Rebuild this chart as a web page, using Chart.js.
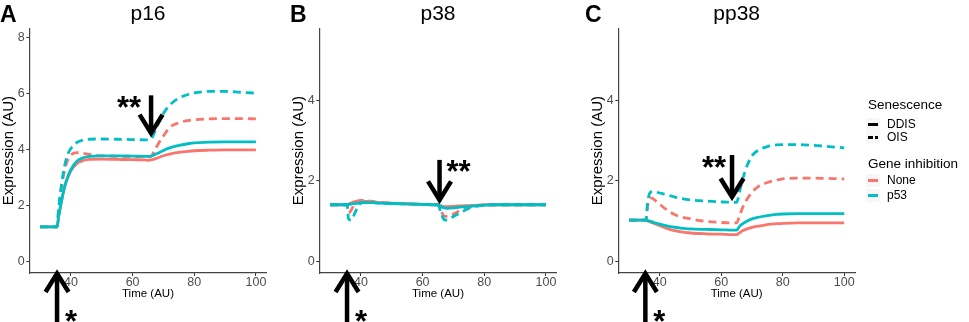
<!DOCTYPE html>
<html>
<head>
<meta charset="utf-8">
<script src="https://cdn.jsdelivr.net/npm/chart.js@4.4.0/dist/chart.umd.min.js"></script>
<style>
  body { margin: 0; background: #fff; width: 969px; height: 322px; position: relative; overflow: hidden;
         font-family: "Liberation Sans", Arial, sans-serif; }
  canvas { position: absolute; top: 0; }
  .legend { position: absolute; left: 866px; top: 0; color: #000; }
  .legend .ttl { position: absolute; left: 2px; font-size: 13.5px; white-space: nowrap; line-height: 16px; }
  .legend .key { position: absolute; left: 0; width: 14px; height: 13px; background: #f7f7f7; }
  .legend .lbl { position: absolute; left: 21px; font-size: 12px; line-height: 14px; white-space: nowrap; }
  .sw { position: absolute; top: 5px; height: 3px; }
</style>
</head>
<body>
<canvas id="panelA" width="290" height="322" style="left:0"></canvas>
<canvas id="panelB" width="290" height="322" style="left:290px"></canvas>
<canvas id="panelC" width="290" height="322" style="left:580px"></canvas>

<div class="legend">
  <div class="ttl" style="top:97px">Senescence</div>
  <div class="key" style="top:118px"><div class="sw" style="left:2px;width:10px;background:#000"></div></div>
  <div class="lbl" style="top:117px">DDIS</div>
  <div class="key" style="top:131px">
    <div class="sw" style="left:2px;width:5px;background:#000"></div>
    <div class="sw" style="left:9px;width:3px;background:#000"></div>
  </div>
  <div class="lbl" style="top:130px">OIS</div>
  <div class="ttl" style="top:156px">Gene inhibition</div>
  <div class="key" style="top:174px"><div class="sw" style="left:2px;width:10px;background:#F8766D"></div></div>
  <div class="lbl" style="top:173px">None</div>
  <div class="key" style="top:189px"><div class="sw" style="left:2px;width:10px;background:#00BFC4"></div></div>
  <div class="lbl" style="top:188px">p53</div>
</div>

<script>
// time points (AU)
const time = [30, 35, 35.5, 36, 37, 38, 39, 40, 42, 44, 46, 50, 55, 60,
              64, 65, 66, 67, 68, 70, 72, 75, 78, 80, 85, 90, 95, 100];

// p16
const p16P53Ddis  = [1.25, 1.25, 1.25, 1.6, 2.2, 2.7, 3.05, 3.3, 3.6, 3.72, 3.77, 3.79, 3.79, 3.78,
                     3.77, 3.77, 3.78, 3.82, 3.87, 3.98, 4.07, 4.16, 4.22, 4.25, 4.28, 4.29, 4.29, 4.29];
const p16NoneDdis = [1.25, 1.25, 1.25, 1.6, 2.2, 2.7, 3.0, 3.25, 3.52, 3.62, 3.66, 3.67, 3.66, 3.65,
                     3.64, 3.63, 3.64, 3.67, 3.71, 3.79, 3.85, 3.91, 3.95, 3.97, 3.99, 4.0, 4.0, 4.0];
const p16P53Ois   = [1.25, 1.25, 1.25, 1.9, 2.8, 3.45, 3.85, 4.05, 4.27, 4.35, 4.38, 4.39, 4.38, 4.37,
                     4.36, 4.36, 4.38, 4.6, 4.85, 5.3, 5.6, 5.85, 5.98, 6.04, 6.09, 6.09, 6.06, 6.03];
const p16NoneOis  = [1.25, 1.25, 1.25, 1.85, 2.7, 3.3, 3.65, 3.82, 3.9, 3.88, 3.84, 3.79, 3.77, 3.76,
                     3.76, 3.76, 3.77, 3.95, 4.15, 4.5, 4.8, 4.97, 5.05, 5.08, 5.11, 5.12, 5.12, 5.11];

// p38
const p38P53Ddis  = [1.41, 1.41, 1.41, 1.42, 1.43, 1.44, 1.45, 1.46, 1.46, 1.46, 1.45, 1.44, 1.43, 1.42,
                     1.41, 1.41, 1.36, 1.33, 1.32, 1.33, 1.35, 1.37, 1.39, 1.4, 1.41, 1.41, 1.41, 1.41];
const p38NoneDdis = [1.41, 1.41, 1.41, 1.43, 1.46, 1.49, 1.5, 1.5, 1.49, 1.47, 1.46, 1.45, 1.43, 1.42,
                     1.41, 1.41, 1.38, 1.36, 1.36, 1.37, 1.38, 1.39, 1.4, 1.41, 1.41, 1.41, 1.41, 1.41];
const p38P53Ois   = [1.41, 1.41, 1.41, 1.05, 1.03, 1.2, 1.36, 1.45, 1.47, 1.46, 1.45, 1.44, 1.43, 1.42,
                     1.41, 1.41, 1.2, 1.04, 1.03, 1.12, 1.2, 1.32, 1.38, 1.4, 1.41, 1.41, 1.41, 1.41];
const p38NoneOis  = [1.41, 1.41, 1.41, 1.2, 1.3, 1.45, 1.5, 1.52, 1.51, 1.49, 1.47, 1.45, 1.43, 1.42,
                     1.41, 1.41, 1.25, 1.13, 1.12, 1.18, 1.26, 1.34, 1.38, 1.4, 1.41, 1.41, 1.41, 1.41];

// pp38
const pp38P53Ddis  = [1.03, 1.03, 1.03, 1.02, 1.0, 0.97, 0.95, 0.93, 0.89, 0.86, 0.84, 0.81, 0.8, 0.79,
                      0.78, 0.78, 0.88, 0.94, 0.99, 1.06, 1.1, 1.14, 1.17, 1.18, 1.19, 1.19, 1.19, 1.19];
const pp38NoneDdis = [1.03, 1.03, 1.03, 1.01, 0.98, 0.95, 0.92, 0.89, 0.83, 0.78, 0.75, 0.71, 0.69, 0.68,
                      0.67, 0.67, 0.72, 0.77, 0.8, 0.85, 0.88, 0.92, 0.94, 0.95, 0.96, 0.96, 0.96, 0.96];
const pp38P53Ois   = [1.03, 1.03, 1.03, 1.45, 1.72, 1.74, 1.72, 1.7, 1.66, 1.62, 1.58, 1.53, 1.5, 1.48,
                      1.47, 1.47, 1.75, 2.05, 2.3, 2.62, 2.76, 2.85, 2.89, 2.9, 2.9, 2.88, 2.85, 2.82];
const pp38NoneOis  = [1.03, 1.03, 1.03, 1.35, 1.58, 1.55, 1.48, 1.42, 1.3, 1.2, 1.13, 1.06, 1.0, 0.97,
                      0.96, 0.96, 1.15, 1.35, 1.5, 1.72, 1.86, 1.96, 2.02, 2.05, 2.07, 2.07, 2.06, 2.05];

// tick labels
const xTicks = [40, 60, 80, 100];
const yTicksP16 = [0, 2, 4, 6, 8];
const yTicksP38 = [0, 2, 4];

const FONT = '"Liberation Sans", Arial, sans-serif';
const RED = '#F8766D';
const TEAL = '#00BFC4';

function drawArrow(ctx, x, yTail, yTip) {
  const back = yTip > yTail ? -18.5 : 18.5;
  ctx.save();
  ctx.strokeStyle = '#000';
  ctx.lineWidth = 4.5;
  ctx.lineJoin = 'miter';
  ctx.beginPath();
  ctx.moveTo(x, yTail);
  ctx.lineTo(x, yTip + (back > 0 ? 2 : -2));
  ctx.stroke();
  ctx.beginPath();
  ctx.moveTo(x - 11.5, yTip + back);
  ctx.lineTo(x, yTip);
  ctx.lineTo(x + 11.5, yTip + back);
  ctx.stroke();
  ctx.restore();
}

function drawStars(ctx, text, cx, cy) {
  ctx.save();
  ctx.font = 'bold 31px ' + FONT;
  ctx.fillStyle = '#000';
  ctx.textAlign = 'center';
  ctx.textBaseline = 'alphabetic';
  const m = ctx.measureText(text);
  ctx.fillText(text, cx, cy + (m.actualBoundingBoxAscent - m.actualBoundingBoxDescent) / 2);
  ctx.restore();
}

// letter + arrows, placed through the panel's scales
function marks(letter, up, down) {
  return {
    id: 'marks' + letter,
    afterDraw(chart) {
      const { ctx, scales: { x, y }, chartArea } = chart;
      ctx.save();
      ctx.font = 'bold 23px ' + FONT;
      ctx.fillStyle = '#000';
      ctx.textBaseline = 'alphabetic';
      ctx.fillText(letter, letter === 'C' ? 5 : 0, 22);
      ctx.restore();

      const ux = x.getPixelForValue(up);
      drawArrow(ctx, ux, chart.height, chartArea.bottom + 0.5);
      drawStars(ctx, '*', ux + 14, chart.height - 6);

      const dx = x.getPixelForValue(down.t);
      const y0 = y.getPixelForValue(down.from);
      drawArrow(ctx, dx, y0, y.getPixelForValue(down.to));
      drawStars(ctx, '**', dx + down.starDx, y0 + 6.5);
    }
  };
}

function panel(id, title, series, yMin, yMax, yTicks, yWidth, yTitlePad, padRight, mk) {
  return new Chart(document.getElementById(id), {
    type: 'line',
    data: {
      datasets: series.map(s => ({
        data: time.map((t, i) => ({ x: t, y: s.values[i] })),
        borderColor: s.color,
        borderWidth: 2.8,
        borderDash: s.dash ? [8, 5] : [],
        pointRadius: 0,
        cubicInterpolationMode: 'monotone',
        fill: false
      }))
    },
    options: {
      responsive: false,
      animation: false,
      events: [],
      layout: { padding: { left: 0, right: padRight, top: 0, bottom: 0 } },
      plugins: {
        legend: { display: false },
        tooltip: { enabled: false },
        title: {
          display: true, text: title, fullSize: false, color: '#000',
          font: { family: FONT, size: 21, weight: 'normal' },
          padding: { top: 2, bottom: 1 }
        }
      },
      scales: {
        x: {
          type: 'linear', min: 26.5, max: 103.5,
          afterBuildTicks: s => { s.ticks = xTicks.map(v => ({ value: v })); },
          afterFit: s => { s.height = 49; },
          grid: { drawOnChartArea: false, tickLength: 3, color: '#333' },
          border: { color: '#444', width: 1.2 },
          ticks: { font: { family: FONT, size: 12.5, lineHeight: 1 }, color: '#4d4d4d', padding: 0,
                   maxRotation: 0, autoSkip: false },
          title: { display: true, text: 'Time (AU)', color: '#000', font: { family: FONT, size: 11.5 },
                   padding: { top: 0, bottom: 21 } }
        },
        y: {
          min: yMin, max: yMax,
          afterBuildTicks: s => { s.ticks = yTicks.map(v => ({ value: v })); },
          afterFit: s => { s.width = yWidth; },
          grid: { drawOnChartArea: false, tickLength: 3, color: '#333' },
          border: { color: '#444', width: 1.2 },
          ticks: { font: { family: FONT, size: 12.5 }, color: '#4d4d4d', padding: 1.5 },
          title: { display: true, text: 'Expression (AU)', color: '#000', font: { family: FONT, size: 15 },
                   padding: { top: yTitlePad, bottom: 0 } }
        }
      }
    },
    plugins: [mk]
  });
}

panel('panelA', 'p16', [
  { values: p16P53Ddis, color: TEAL },
  { values: p16P53Ois, color: TEAL, dash: true },
  { values: p16NoneDdis, color: RED },
  { values: p16NoneOis, color: RED, dash: true }
], -0.4, 8.35, yTicksP16, 29.3, 0.2, 23.3,
  marks('A', 35.5, { t: 66, from: 5.95, to: 4.6, starDx: -22 }));

panel('panelB', 'p38', [
  { values: p38P53Ddis, color: TEAL },
  { values: p38P53Ois, color: TEAL, dash: true },
  { values: p38NoneDdis, color: RED },
  { values: p38NoneOis, color: RED, dash: true }
], -0.28, 5.78, yTicksP38, 29.3, 0.2, 23.3,
  marks('B', 35.5, { t: 65.5, from: 2.52, to: 1.53, starDx: 19 }));

panel('panelC', 'pp38', [
  { values: pp38P53Ddis, color: TEAL },
  { values: pp38P53Ois, color: TEAL, dash: true },
  { values: pp38NoneDdis, color: RED },
  { values: pp38NoneOis, color: RED, dash: true }
], -0.28, 5.78, yTicksP38, 38.3, 9, 15,
  marks('C', 35.3, { t: 63.5, from: 2.64, to: 1.6, starDx: -18 }));
</script>
</body>
</html>
